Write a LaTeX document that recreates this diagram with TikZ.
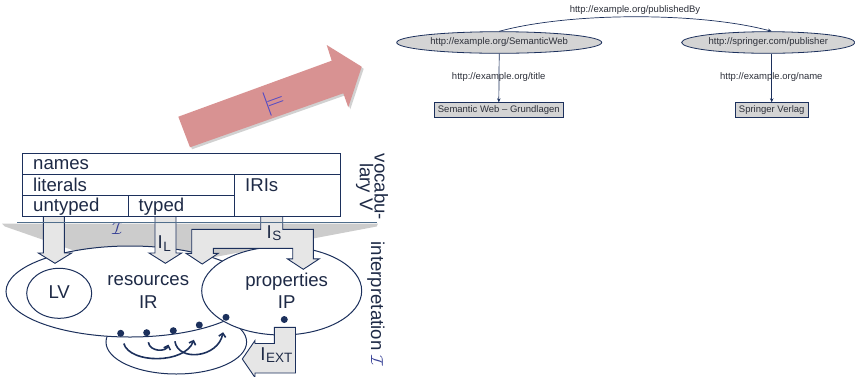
\documentclass[tikz,border=0pt]{standalone}
\usepackage{fontspec}
\setmainfont{Liberation Sans}
\usetikzlibrary{shapes.geometric,arrows.meta}

\definecolor{navy}{RGB}{28,48,92}
\definecolor{ink}{RGB}{30,42,70}
\definecolor{rdftext}{RGB}{45,48,58}
\definecolor{rdfgray}{RGB}{212,212,212}
\definecolor{blockfill}{RGB}{230,230,230}
\definecolor{band}{RGB}{204,204,204}
\definecolor{rulecol}{RGB}{80,110,140}
\definecolor{entail}{RGB}{216,146,146}
\definecolor{calblue}{RGB}{55,65,150}
\definecolor{turnstile}{RGB}{75,70,200}

\newcommand{\bigfont}{\fontsize{18.6}{19}\selectfont}
\newcommand{\smallfont}{\fontsize{9.5}{10}\selectfont}
\newcommand{\mapname}[1]{I\kern0.03em\raisebox{-2.5pt}{\fontsize{13.5}{13.5}\selectfont #1}}

\begin{document}
\begin{tikzpicture}[x=1pt,y=-1pt,
  blockarrow/.style={fill=blockfill, draw=navy, line width=0.9pt, line join=miter},
  region/.style={fill=white, draw=navy, line width=1pt},
  tablebox/.style={fill=white, draw=navy, line width=1pt},
  lbl/.style={text=ink, font=\bigfont, inner sep=0pt},
  marker/.style={circle, fill=navy, inner sep=0pt, minimum size=7pt},
  hop/.style={draw=navy, line width=1.6pt, -{Straight Barb[length=3.5pt,width=7pt]}},
  resource/.style={ellipse, draw=navy, fill=rdfgray, line width=0.8pt, inner sep=0pt,
                   text=rdftext, font=\smallfont, minimum height=21.6pt},
  literal/.style={rectangle, draw=navy, fill=rdfgray, line width=0.8pt, inner sep=0pt,
                  text=rdftext, font=\smallfont, minimum height=14.6pt},
  proplbl/.style={text=rdftext, font=\smallfont, inner sep=0pt},
  rdfedge/.style={draw=navy, line width=0.7pt, -{Stealth[length=4pt,width=3.5pt]}}]

\useasboundingbox (0,0) rectangle (855,376);

% ---------- entailment arrow ----------
\fill[black, opacity=0.18] (180.3,118.7) -- (333.7,62.7) -- (328.7,47) -- (363.7,68.7)
  -- (350.3,109.3) -- (345.3,95.3) -- (192,149.3) -- cycle;
\fill[entail] (178.3,116.7) -- (331.7,60.7) -- (326.7,45) -- (361.7,66.7)
  -- (348.3,107.3) -- (343.3,93.3) -- (190,147.3) -- cycle;
\node[text=turnstile, rotate=20, inner sep=0pt, font=\fontsize{28}{28}\selectfont]
  (models) at (274,102) {$\models$};

% ---------- interpretation band ----------
\fill[band] (2,223.5) -- (378,223.5) -- (376.7,226.5) -- (135.5,272) -- (5,226.5) -- cycle;

% ---------- domains ----------
\draw[region] (176.3,342) ellipse [x radius=70.3, y radius=32];
\draw[region] (130,291.5) ellipse [x radius=124, y radius=45.5];
\draw[region] (59.2,293.3) ellipse [x radius=32.5, y radius=25];
\draw[region] (281.7,290.8) ellipse [x radius=80, y radius=44.2];

\node[lbl, anchor=base] (lv) at (59.2,298.3) {LV};
\node[lbl, anchor=base] (irname) at (148.3,285.7) {resources};
\node[lbl, anchor=base] (ir) at (148.3,308.3) {IR};
\node[lbl, anchor=base] (ipname) at (286.7,286.2) {properties};
\node[lbl, anchor=base] (ip) at (286.7,308.3) {IP};

% ---------- mapping arrows ----------
\draw[blockarrow] (43.3,216) -- (64.3,216) -- (64.3,253) -- (71.7,253) -- (55,263.3)
  -- (38.3,253) -- (43.3,253) -- cycle;
\draw[blockarrow] (155,216) -- (176,216) -- (176,253) -- (181.7,253) -- (165.4,263.3)
  -- (149,253) -- (155,253) -- cycle;
\draw[blockarrow] (260.7,216) -- (282.7,216) -- (282.7,229.3) -- (313.3,229.3)
  -- (313.3,258.8) -- (319.3,258.8) -- (303.3,269.3) -- (287.3,258.8) -- (292.7,258.8)
  -- (292.7,248.3) -- (213.3,248.3) -- (213.3,253.3) -- (218.3,253.3) -- (202.2,264)
  -- (186,253.3) -- (191.7,253.3) -- (191.7,229.3) -- (260.7,229.3) -- cycle;
\draw[blockarrow] (274.3,327.3) -- (295.5,327.3) -- (295.5,373) -- (255,373) -- (255,377.5)
  -- (242.3,359) -- (255,340.5) -- (255,343.5) -- (274.3,343.5) -- cycle;

\node[lbl, anchor=base west] (il) at (157.5,248.5) {\mapname{L}};
\node[lbl, anchor=base west] (is) at (266.5,238.3) {\mapname{S}};
\node[lbl, anchor=base west] (iext) at (260.2,360) {\mapname{EXT}};
\node[text=calblue, inner sep=0pt, font=\fontsize{16}{16}\selectfont] (calI) at (117.5,228.5) {$\mathcal{I}$};

% ---------- vocabulary table ----------
\draw[tablebox] (22.7,153.3) rectangle (340.7,216);
\draw[navy, line width=1pt] (22.7,174) -- (340.7,174);
\draw[navy, line width=1pt] (22.7,195.7) -- (234.3,195.7);
\draw[navy, line width=1pt] (234.3,174) -- (234.3,216);
\draw[navy, line width=1pt] (128.3,195.7) -- (128.3,216);
\node[lbl, anchor=base west] (names) at (33,169.3) {names};
\node[lbl, anchor=base west] (literals) at (33,191.3) {literals};
\node[lbl, anchor=base west] (untyped) at (33,211) {untyped};
\node[lbl, anchor=base west] (typed) at (138.5,211) {typed};
\node[lbl, anchor=base west] (iris) at (245,191.3) {IRIs};

\draw[rulecol, line width=0.8pt] (17,222.3) -- (376.7,222.3);

\node[lbl, rotate=-90, align=center, font=\fontsize{18.6}{13}\selectfont] (vocab) at (372,187) {vocabu-\\lary V};
\node[lbl, rotate=-90] (interp) at (376,304) {interpretation \textcolor{calblue}{$\mathcal{I}$}};

% ---------- relation extension ----------
\node[marker] (d1) at (120.7,333.3) {};
\node[marker] (d2) at (146.7,332.7) {};
\node[marker] (d3) at (173.3,330.7) {};
\node[marker] (d4) at (199.3,325) {};
\node[marker] (d5) at (226,317.3) {};
\node[marker] (dp) at (284.3,319.5) {};

\draw[hop, shorten <=6pt, shorten >=11pt] (d2) .. controls (150,352) and (166,352) .. (d3);
\draw[hop, shorten <=7pt, shorten >=12pt] (d1) .. controls (130,364) and (185,364) .. (d4);
\draw[hop, shorten <=7pt, shorten >=11.5pt] (d3) .. controls (178,362) and (218,358) .. (d5);

% ---------- RDF graph ----------
\node[resource, minimum width=205pt] (sw) at (499.2,42.5) {http://example.org/SemanticWeb};
\node[resource, minimum width=173.4pt] (pub) at (768.3,42.5) {http://springer.com/publisher};
\node[literal, minimum width=129pt] (book) at (498.8,110) {Semantic Web – Grundlagen};
\node[literal, minimum width=73.3pt] (verlag) at (771.7,110) {Springer Verlag};

\draw[rdfedge] (sw.south) -- (book.north);
\draw[rdfedge] (pub.south -| verlag.north) -- (verlag.north);
\draw[rdfedge] (sw.north) .. controls (570,12) and (700,12) .. (pub.north -| verlag.north);

\node[proplbl] (pby) at (635,10) {http://example.org/publishedBy};
\node[proplbl] (ptitle) at (498.7,77.3) {http://example.org/title};
\node[proplbl] (pname) at (771.3,77.3) {http://example.org/name};
\end{tikzpicture}
\end{document}
